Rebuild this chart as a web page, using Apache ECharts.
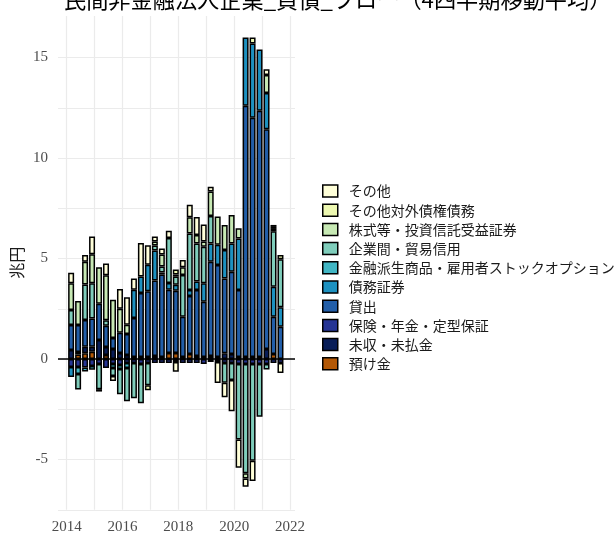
<!DOCTYPE html>
<html><head><meta charset="utf-8">
<script src="https://cdn.jsdelivr.net/npm/echarts@6/dist/echarts.min.js"></script>
<style>html,body{margin:0;padding:0;background:#fff}#c{width:614px;height:535px}</style>
</head><body><div id="c"></div>
<script>
// Quarters (2014Q1 .. 2021Q3)
const quarters = ['2014Q1','2014Q2','2014Q3','2014Q4','2015Q1','2015Q2','2015Q3','2015Q4',
  '2016Q1','2016Q2','2016Q3','2016Q4','2017Q1','2017Q2','2017Q3','2017Q4',
  '2018Q1','2018Q2','2018Q3','2018Q4','2019Q1','2019Q2','2019Q3','2019Q4',
  '2020Q1','2020Q2','2020Q3','2020Q4','2021Q1','2021Q2','2021Q3'];

// Series (stack order: bottom -> top), values in 兆円
const deposits   = [null,0.22,0.28,0.36,null,0.2,null,null,null,null,null,null,null,null,0.3,0.3,null,0.25,null,null,0.15,null,null,null,null,null,null,null,null,0.25,null];
const receivable = [0.45,0.13,0.33,0.25,0.95,0.4,0.5,0.3,0.2,0.1,0.1,0.1,0.15,0.1,null,null,0.1,null,0.15,0.1,null,0.1,0.28,0.25,0.1,0.1,0.1,0.1,0.5,null,null];
const insurance  = [-0.4,-0.4,-0.42,-0.35,-0.25,-0.45,-0.25,-0.3,-0.2,-0.2,-0.25,-0.2,-0.2,-0.2,-0.2,-0.15,-0.2,-0.2,-0.2,-0.25,-0.15,-0.15,-0.2,-0.2,-0.25,-0.25,-0.25,-0.25,-0.25,-0.2,-0.2];
const loans      = [1.24,1.34,1.33,1.41,1.8,1.05,0.55,1.0,1.05,1.94,3.18,3.27,3.75,4.1,3.15,3.1,2.0,2.88,3.28,2.75,4.69,4.58,3.73,4.09,3.33,12.5,11.9,12.25,10.93,1.85,1.61];
const debtSec    = [-0.5,null,null,null,null,null,null,null,null,1.41,0.83,1.32,1.5,0.1,0.33,0.3,null,0.3,0.42,0.92,0.91,1.0,1.41,1.41,2.57,3.4,3.7,3.05,1.8,1.5,0.96];
const derivative = [null,-0.35,-0.2,-0.18,null,null,-0.2,-0.2,-0.25,null,null,null,null,null,null,null,null,null,null,null,null,null,null,null,null,null,null,null,null,null,null];
const tradeCred  = [0.75,-0.77,1.77,1.75,-1.25,0.28,-0.4,-1.25,-1.65,-1.75,-1.95,-1.1,0.25,0.3,2.24,0.4,2.08,2.82,1.9,1.82,1.36,null,-0.98,-0.85,-3.75,-5.44,-4.81,-2.62,-0.27,2.75,2.39];
const equity     = [1.33,1.2,1.13,1.44,1.82,2.24,1.9,1.2,0.45,null,null,null,0.2,0.6,null,0.1,0.38,0.8,0.42,0.25,1.22,1.41,1.25,1.41,0.5,-0.25,null,null,0.9,0.12,null];
const extOther   = [null,null,null,null,null,null,null,null,null,null,null,-0.25,null,null,null,0.25,null,null,null,null,null,null,null,null,null,null,0.3,null,null,0.1,0.21];
const other      = [0.52,null,0.33,0.88,-0.12,0.58,-0.25,0.98,1.37,0.55,1.66,0.97,0.25,0.3,0.36,-0.48,0.37,0.63,0.9,0.85,0.24,-1.05,-0.72,-1.55,-1.41,-0.41,-1.01,null,0.28,0.1,-0.5];

const seriesNames = ['預け金','未収・未払金','保険・年金・定型保証','貸出','債務証券',
  '金融派生商品・雇用者ストックオプション','企業間・貿易信用','株式等・投資信託受益証券','その他対外債権債務','その他'];
const seriesValues = [deposits,receivable,insurance,loans,debtSec,derivative,tradeCred,equity,extOther,other];
const colors = ['#B35806','#081D58','#253494','#225EA8','#1D91C0','#41B6C4','#7FCDBB','#C7E9B4','#EDF8B1','#FFFFD9'];

const xTickLabels = [2014, 2016, 2018, 2020, 2022];
const xGridYears = [2014,2015,2016,2017,2018,2019,2020,2021,2022];
const yTickLabels = [-5, 0, 5, 10, 15];
const yGridValues = [-7.5,-5,-2.5,0,2.5,5,7.5,10,12.5,15];

const serif = "'Liberation Serif', 'DejaVu Serif', serif";
const jp = "'Noto Sans CJK JP', sans-serif";

// panel geometry (decimal-year value axis on grid 0; quarterly bars on grid 1)
const X_MIN = 2013.69, X_MAX = 2022.18, Y_MIN = -7.5, Y_MAX = 17.07;
const PANEL_L = 58, PANEL_R = 295, TOP = 15.9, BOTTOM = 25.25;
const pxPerYear = (PANEL_R - PANEL_L) / (X_MAX - X_MIN);
const firstCenter = 2014.16; // bar centre of 2014Q1
const barsL = PANEL_L + (firstCenter - 0.125 - X_MIN) * pxPerYear;
const barsR = barsL + quarters.length * pxPerYear / 4;

const series = seriesNames.map((name, i) => ({
  name, type: 'bar', stack: 'total', barWidth: 6,
  xAxisIndex: 1, yAxisIndex: 1,
  itemStyle: { color: colors[i], borderColor: '#000', borderWidth: 1.5 },
  data: seriesValues[i],
  emphasis: { disabled: true }
}));
series.push({
  name: 'zero', type: 'line', xAxisIndex: 0, yAxisIndex: 0, data: [],
  markLine: {
    silent: true, symbol: 'none', label: { show: false }, animation: false,
    lineStyle: { color: '#000', width: 1.5, type: 'solid' },
    data: [{ yAxis: 0 }]
  }
});

const chart = echarts.init(document.getElementById('c'), null, { renderer: 'canvas' });
chart.setOption({
  animation: false,
  backgroundColor: '#fff',
  title: {
    text: '民間非金融法人企業_負債_フロー（4四半期移動平均）',
    left: 59, top: -17,
    textStyle: { fontFamily: jp, fontSize: 22.2, fontWeight: 'normal', color: '#000' }
  },
  grid: [
    { left: PANEL_L, right: 614 - PANEL_R, top: TOP, bottom: BOTTOM },
    { left: barsL, right: 614 - barsR, top: TOP, bottom: BOTTOM }
  ],
  legend: {
    orient: 'vertical', left: 317, top: 179,
    itemWidth: 15, itemHeight: 12, itemGap: 5.2,
    icon: 'rect',
    data: seriesNames.slice().reverse(),
    itemStyle: { borderColor: '#000', borderWidth: 1.5 },
    textStyle: { fontFamily: jp, fontSize: 14, color: '#1a1a1a', padding: [0,0,0,6] }
  },
  xAxis: [{
    type: 'value', gridIndex: 0, min: X_MIN, max: X_MAX,
    axisLine: { show: false },
    axisTick: { show: false, customValues: xGridYears },
    axisLabel: { customValues: xTickLabels, formatter: v => String(v), color: '#4d4d4d', fontFamily: serif, fontSize: 15, margin: 10 },
    splitLine: { show: true, lineStyle: { color: '#ebebeb', width: 1.2 } }
  }, {
    type: 'category', gridIndex: 1, data: quarters, show: false
  }],
  yAxis: [{
    type: 'value', gridIndex: 0, min: Y_MIN, max: Y_MAX,
    name: '兆円', nameLocation: 'middle', nameGap: 33, nameRotate: 90,
    nameTextStyle: { fontFamily: jp, fontSize: 16, color: '#1a1a1a' },
    axisLine: { show: false },
    axisTick: { show: false, customValues: yGridValues },
    axisLabel: { customValues: yTickLabels, color: '#4d4d4d', fontFamily: serif, fontSize: 15, margin: 10 },
    splitLine: { show: true, lineStyle: { color: '#ebebeb', width: 1.2 } }
  }, {
    type: 'value', gridIndex: 1, min: Y_MIN, max: Y_MAX, show: false,
    splitLine: { show: false }
  }],
  series
});
</script></body></html>
